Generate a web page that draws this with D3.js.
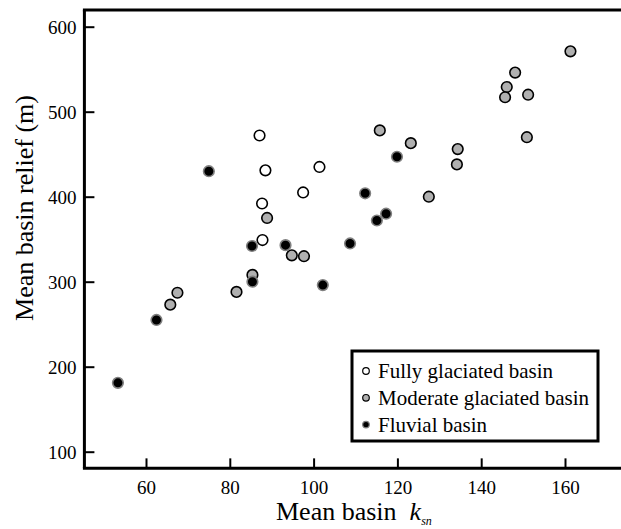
<!DOCTYPE html>
<html>
<head>
<meta charset="utf-8">
<script src="https://cdn.jsdelivr.net/npm/d3@7"></script>
<style>
  html, body { margin: 0; padding: 0; background: #fff; }
  svg { display: block; }
  text { font-family: "Liberation Serif", "Times New Roman", serif; fill: #000; }
</style>
</head>
<body>
<svg id="chart" width="621" height="529"></svg>
<script>
// ---- data ----
const fullyKsn    = [87.1, 88.5, 97.5, 101.4, 87.7, 87.8];
const fullyRelief = [472, 431, 405, 435, 392, 349];

const moderateKsn    = [88.9, 94.8, 97.7, 161.3, 148.1, 146.1, 145.7, 151.2, 150.9, 115.8, 123.2, 134.4, 134.2, 127.5, 85.4, 81.6, 67.5, 65.8];
const moderateRelief = [375, 331, 330, 571, 546, 529, 517, 520, 470, 478, 463, 456, 438, 400, 308, 288, 287, 273];

const fluvialKsn    = [75.0, 85.3, 93.3, 119.9, 112.3, 117.3, 115.1, 108.7, 85.4, 62.5, 53.3, 102.2];
const fluvialRelief = [430, 342, 343, 447, 404, 380, 372, 345, 300, 255, 181, 296];

const xTicks = [60, 80, 100, 120, 140, 160];
const yTicks = [100, 200, 300, 400, 500, 600];
const legendLabels = ["Fully glaciated basin", "Moderate glaciated basin", "Fluvial basin"];

// ---- layout ----
const svg = d3.select("#chart");
const x = d3.scaleLinear().domain([60, 160]).range([146, 565]);
const y = d3.scaleLinear().domain([100, 600]).range([451.7, 26.7]);
const xMin = 45.3, xMax = 176, yMin = 80.4, yMax = 619.6;

const styles = [
  { fill: "#ffffff", stroke: "#000", sw: 1.6 },
  { fill: "#b0b0b0", stroke: "#000", sw: 1.6 },
  { fill: "#000000", stroke: "#808080", sw: 1.6 }
];

// frame lines
const g = svg.append("g");
g.append("line").attr("x1", x(xMin)).attr("x2", x(xMin)).attr("y1", y(yMin)).attr("y2", y(yMax))
  .attr("stroke", "#000").attr("stroke-width", 3);
g.append("line").attr("x1", x(xMin) - 1.5).attr("x2", x(xMax)).attr("y1", y(yMin)).attr("y2", y(yMin))
  .attr("stroke", "#000").attr("stroke-width", 3);
g.append("line").attr("x1", x(xMin) - 1.5).attr("x2", x(xMax)).attr("y1", y(yMax)).attr("y2", y(yMax))
  .attr("stroke", "#000").attr("stroke-width", 3);

// axes (inward ticks)
const xAxis = d3.axisTop(x).tickValues(xTicks).tickSize(10).tickFormat(d3.format("d"));
const xg = svg.append("g").attr("transform", `translate(0,${y(yMin)})`).call(xAxis)
  .attr("font-family", null).attr("font-size", null);
xg.select(".domain").remove();
xg.selectAll(".tick line").attr("stroke", "#000").attr("stroke-width", 2);
xg.selectAll(".tick text").attr("y", 26).attr("dy", 0).attr("font-size", 19)
  .attr("text-anchor", "middle");

const yAxis = d3.axisRight(y).tickValues(yTicks).tickSize(10).tickFormat(d3.format("d"));
const yg = svg.append("g").attr("transform", `translate(${x(xMin)},0)`).call(yAxis)
  .attr("font-family", null).attr("font-size", null);
yg.select(".domain").remove();
yg.selectAll(".tick line").attr("stroke", "#000").attr("stroke-width", 2);
yg.selectAll(".tick text").attr("x", -8).attr("dy", "0.34em").attr("font-size", 19)
  .attr("text-anchor", "end");

// points
const series = [
  { k: fullyKsn, r: fullyRelief, s: styles[0] },
  { k: moderateKsn, r: moderateRelief, s: styles[1] },
  { k: fluvialKsn, r: fluvialRelief, s: styles[2] }
];
const pg = svg.append("g");
series.forEach(sr => {
  pg.selectAll(null).data(sr.k.map((v, i) => [v, sr.r[i]])).enter().append("circle")
    .attr("cx", d => x(d[0])).attr("cy", d => y(d[1])).attr("r", 5.3)
    .attr("fill", sr.s.fill).attr("stroke", sr.s.stroke).attr("stroke-width", sr.s.sw);
});

// axis titles
const xt = svg.append("text").attr("x", 276).attr("y", 520).attr("font-size", 26);
xt.append("tspan").text("Mean basin\u00a0\u00a0");
xt.append("tspan").attr("font-style", "italic").text("k");
xt.append("tspan").attr("font-style", "italic").attr("font-size", 12).attr("dy", 5).text("sn");

svg.append("text").attr("transform", "translate(33,208) rotate(-90)")
  .attr("text-anchor", "middle").attr("font-size", 26).text("Mean basin relief (m)");

// legend
const lg = svg.append("g");
lg.append("rect").attr("x", 352).attr("y", 351).attr("width", 246).attr("height", 90)
  .attr("fill", "#fff").attr("stroke", "#000").attr("stroke-width", 3);
legendLabels.forEach((lab, i) => {
  const cy = 371 + i * 26.8;
  lg.append("circle").attr("cx", 366).attr("cy", cy).attr("r", 3.3)
    .attr("fill", styles[i].fill).attr("stroke", styles[i].stroke).attr("stroke-width", 1.2);
  lg.append("text").attr("x", 378).attr("y", cy).attr("dy", "0.35em").attr("font-size", 21).text(lab);
});
</script>
</body>
</html>
